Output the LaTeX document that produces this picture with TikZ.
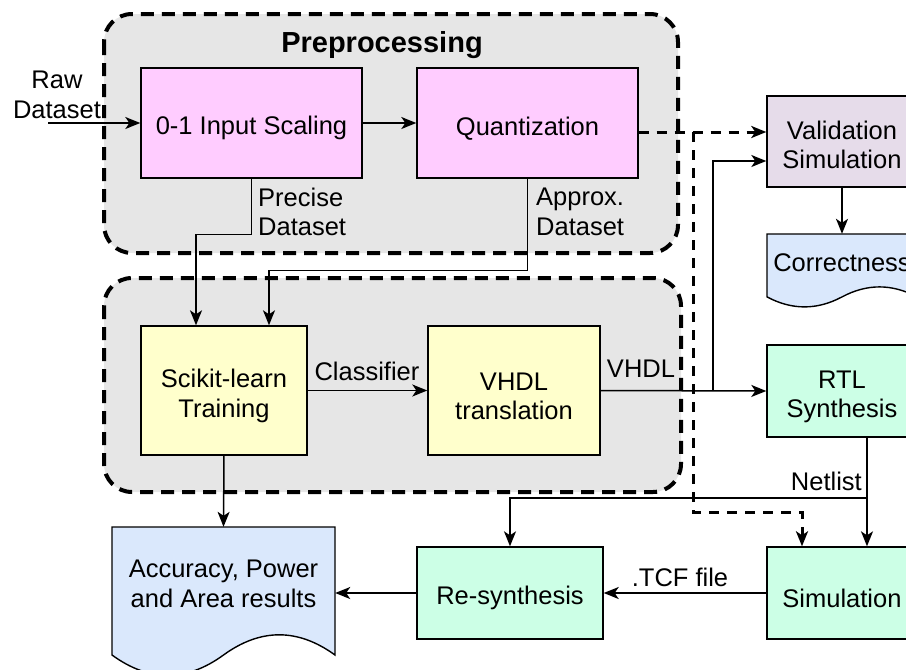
\documentclass[tikz,border=0pt]{standalone}
\usepackage{fontspec}
\setmainfont{Liberation Sans}
\usetikzlibrary{arrows.meta,calc}
\definecolor{grpfill}{HTML}{E6E6E6}
\definecolor{pinkf}{HTML}{FFCCFF}
\definecolor{yelf}{HTML}{FFFFCC}
\definecolor{mintf}{HTML}{CCFFE6}
\definecolor{purf}{HTML}{E6DCEA}
\definecolor{bluef}{HTML}{DAE8FC}
\newcommand{\tstrut}{\rule{0pt}{29pt}}
\begin{document}
\begin{tikzpicture}[x=1pt,y=-1pt,
  every node/.style={font=\fontsize{25.5}{29.5}\selectfont},
  grp/.style={draw=black, line width=4pt, dash pattern=on 13pt off 8pt, fill=grpfill, rounded corners=28pt},
  box/.style={draw=black, line width=1.4pt, align=center, inner sep=0pt},
  lbl/.style={inner sep=0pt, align=left},
  arr/.style={line width=1.5pt, -{Stealth[length=15pt,width=12pt,inset=4pt]}},
  darr/.style={line width=3pt, dash pattern=on 10pt off 8pt, -{Stealth[length=15pt,width=12pt,inset=4pt]}},
  doc/.style={draw=black, line width=1.4pt, fill=bluef}
]
\path[use as bounding box, clip] (0,0) rectangle (906,670);

% groups
\path[grp] (104,14) rectangle (678,253);
\path[grp] (104,278) rectangle (681,492);
\node[font=\fontsize{29}{34}\selectfont\bfseries] (title) at (382,45) {Preprocessing};

% document shapes
\draw[doc] (112,527) -- (335,527) -- (335,655) .. controls (297.83,628.07) and (260.67,628.07) .. (223.5,655) .. controls (186.33,682.07) and (149.17,682.07) .. (112,655) -- cycle;
\node[inner sep=0pt, minimum width=223pt, minimum height=132pt] (acc) at (223.5,593) {};
\node[align=center, inner sep=0pt] (acctxt) at (223.5,584) {Accuracy, Power\\and Area results};

\draw[doc] (767,234) -- (917,234) -- (917,296.9) .. controls (892,283.58) and (867,283.58) .. (842,296.9) .. controls (817,310.22) and (792,310.22) .. (767,296.9) -- cycle;
\node[inner sep=0pt, minimum width=150pt, minimum height=58pt] (corr) at (842,263) {Correctness};

% boxes
\node[box, fill=pinkf, minimum width=221pt, minimum height=110pt] (scale) at (251.5,123) {\tstrut 0-1 Input Scaling};
\node[box, fill=pinkf, minimum width=221pt, minimum height=110pt] (quant) at (527.5,123) {\tstrut Quantization};
\node[box, fill=yelf, minimum width=166pt, minimum height=129pt] (sci) at (224,390.5) {\tstrut Scikit-learn\\Training};
\node[box, fill=yelf, minimum width=172pt, minimum height=129pt] (vhdl) at (514,390.5) {\tstrut VHDL\\translation};
\node[box, fill=purf, minimum width=150pt, minimum height=91pt] (val) at (842,141.5) {\rule{0pt}{25pt}Validation\\Simulation};
\node[box, fill=mintf, minimum width=150pt, minimum height=92pt] (rtl) at (842,391) {\tstrut RTL\\Synthesis};
\node[box, fill=mintf, minimum width=150pt, minimum height=92pt] (sim) at (842,593) {\tstrut Simulation};
\node[box, fill=mintf, minimum width=186pt, minimum height=92pt] (res) at (510,593) {\tstrut Re-synthesis};

% connectors
\coordinate (rawin) at (48,123);
\node[align=center, inner sep=0pt] (raw) at (57,95) {Raw\\Dataset};
\draw[arr] (rawin) -- (scale.west);
\draw[arr] (scale.east) -- (quant.west);
\draw[arr] (scale.south) -- ++(0,56) -| ([xshift=-28pt]sci.north);
\draw[arr] (quant.south) -- ++(0,92) -| ([xshift=45pt]sci.north);
\node[lbl, anchor=west] (lprec) at (258,212) {Precise\\Dataset};
\node[lbl, anchor=west] (lappr) at (536,212) {Approx.\\Dataset};

\draw[arr] (sci.east) -- (vhdl.west);
\node[lbl] (lcls) at (367,371) {Classifier};
\draw[arr] (vhdl.east) -- (rtl.west);
\node[lbl] (lvhdl) at (641,369) {VHDL};
\coordinate (vj) at (713,391);
\draw[arr] (vj) |- ([yshift=-19.5pt]val.west);

\coordinate (qj) at (693,132);
\coordinate (qk) at (693,512);
\draw[darr] ([yshift=-9pt]quant.east) -- ([yshift=9.5pt]val.west);
\draw[darr] (qj) -- (qk) -| ([xshift=-40pt]sim.north);

\draw[arr] (val.south) -- (corr.north);
\draw[arr] ([xshift=25pt]rtl.south) -- ([xshift=25pt]sim.north);
\coordinate (nj) at (867,498);
\draw[arr] (nj) -| (res.north);
\node[lbl, anchor=south east] (lnet) at (862,491) {Netlist};

\draw[arr] (sci.south) -- (acc.north);
\draw[arr] (sim.west) -- (res.east);
\node[lbl] (ltcf) at (680,577) {.TCF file};
\draw[arr] (res.west) -- (acc.east);
\end{tikzpicture}
\end{document}
